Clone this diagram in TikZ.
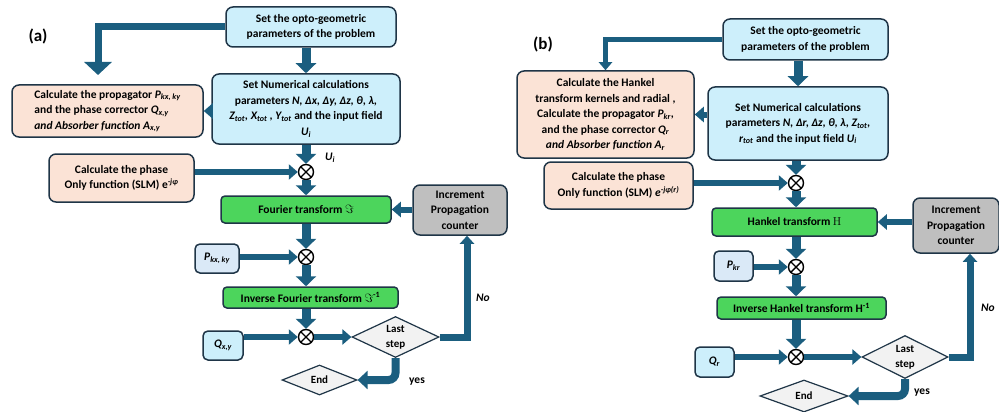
\documentclass[tikz,border=0pt]{standalone}
\usepackage{fontspec}
\setmainfont{Carlito}
\newfontfamily\lmrfont{Latin Modern Roman}
\usetikzlibrary{arrows.meta,positioning,shapes.geometric}
\definecolor{arrc}{HTML}{1B5E7F}
\definecolor{edgec}{HTML}{1F3547}
\definecolor{skyc}{HTML}{CDEFFB}
\definecolor{palec}{HTML}{DAE9F7}
\definecolor{peachc}{HTML}{FBE3D6}
\definecolor{greenc}{HTML}{4CD55C}
\definecolor{grayc}{HTML}{BFBFBF}
\definecolor{diac}{HTML}{F2F2F2}

\begin{document}
\begin{tikzpicture}[x=1pt, y=-1pt,
	font=\bfseries\fontsize{11.5}{15.5}\selectfont,
	comp/.style={rectangle, rounded corners=7pt, draw=edgec, line width=1.5pt, align=center, inner sep=2pt},
	skybox/.style={comp, fill=skyc},
	palebox/.style={comp, fill=palec, rounded corners=5pt},
	peachbox/.style={comp, fill=peachc},
	ftbox/.style={comp, fill=greenc, rounded corners=4pt},
	incbox/.style={comp, fill=grayc},
	dia/.style={diamond, aspect=2, draw=edgec, line width=1.2pt, fill=diac, inner sep=0pt, align=center, font=\bfseries\fontsize{11}{15}\selectfont},
	mult/.style={circle, draw=black, line width=1.4pt, fill=white, minimum size=15pt, inner sep=0pt,
		path picture={\draw[line width=1.4pt] (path picture bounding box.north west) -- (path picture bounding box.south east) (path picture bounding box.north east) -- (path picture bounding box.south west);}},
	arr/.style={draw=arrc, line width=9pt, -{Triangle[width=20pt,length=10pt]}},
	sarr/.style={draw=arrc, line width=6pt, -{Triangle[width=15pt,length=9pt]}},
	barr/.style={draw=arrc, line width=7pt, -{Triangle[width=27pt,length=13pt]}},
	tarr/.style={draw=arrc, line width=5pt, -{Triangle[width=13pt,length=8pt]}},
	narr/.style={draw=arrc, line width=7pt, -{Triangle[width=14pt,length=8pt]}},
	yarr/.style={draw=arrc, line width=8pt, rounded corners=7pt, -{Triangle[width=18pt,length=10pt]}}]
	\useasboundingbox (0,0) rectangle (999,412);
	\clip (0,0) rectangle (999,412);

	\node[font=\bfseries\fontsize{17}{20}\selectfont] (la) at (38,36) {(a)};
	\node[skybox, minimum width=170pt, minimum height=40pt] (n1) at (311,27) {Set the opto-geometric\\parameters of the problem};
	\node[skybox, minimum width=188pt, minimum height=70pt] (n2) at (306,109) {Set Numerical calculations\\parameters \textit{N, Δx, Δy, Δz, θ, λ,}\\\textit{Z\textsubscript{tot}, X\textsubscript{tot} , Y\textsubscript{tot}} and the input field\\\textit{U\textsubscript{i}}};
	\node[peachbox, align=left, minimum width=191pt, minimum height=52pt] (n3) at (107.5,111) {Calculate the propagator \textit{P\textsubscript{kx, ky}}\\and the phase corrector \textit{Q\textsubscript{x,y}}\\\textit{and Absorber function A\textsubscript{x,y}}};
	\node[peachbox, minimum width=145pt, minimum height=48pt] (n4) at (121.5,178) {Calculate the phase\\Only function (SLM) e\textsuperscript{\textit{-jφ}}};
	\node[mult] (n5) at (306,172) {};
	\node[ftbox, minimum width=170pt, minimum height=27pt] (n6) at (306,209.5) {Fourier transform $\Im$};
	\node[incbox, minimum width=94pt, minimum height=50pt] (n7) at (460,210) {Increment\\Propagation\\counter};
	\node[palebox, minimum width=44pt, minimum height=29pt] (n8) at (217,258.5) {\textit{P\textsubscript{kx, ky}}};
	\node[mult] (n9) at (306,257) {};
	\node[ftbox, minimum width=175pt, minimum height=21pt] (n10) at (310.5,297.5) {Inverse Fourier transform $\Im$\textsuperscript{-1}};
	\node[mult] (n11) at (306,337) {};
	\node[skybox, rounded corners=5pt, minimum width=40pt, minimum height=29pt] (n12) at (223,345.5) {\textit{Q\textsubscript{x,y}}};
	\node[dia, minimum width=87pt, minimum height=41pt] (n13) at (395.5,337) {Last\\step};
	\node[dia, minimum width=75pt, minimum height=30pt] (n14) at (319.5,380) {End};
	\node (n15) at (483,298) {\textit{No}};
	\node (n16) at (417,382) {yes};
	\node (n17) at (330,158) {\textit{U\textsubscript{i}}};
	\coordinate (c1) at (98,75);

	\draw[arr] (n1.south -| n2) -- (n2.north);
	\draw[barr] (n1.west) -| (c1);
	\draw[sarr] (n2.west |- n3.east) -- (n3.east);
	\draw[arr] (n2.south -| n5) -- (n5.north);
	\draw[sarr] (n4.east |- n5) -- (n5.west);
	\draw[arr] (n5.south) -- (n6.north);
	\draw[sarr] (n7.west |- n6) -- (n6.east);
	\draw[arr] (n6.south) -- (n9.north);
	\draw[sarr] (n8.east |- n9) -- (n9.west);
	\draw[arr] (n9.south) -- (n10.north -| n9);
	\draw[arr] (n10.south -| n11) -- (n11.north);
	\draw[sarr] (n12.east |- n11) -- (n11.west);
	\draw[sarr] (n11.east) -- (n13.west);
	\draw[narr] (n13.east) -| ([xshift=7pt]n7.south);
	\draw[yarr] (n13.south) |- (n14.east);

	\node[font=\bfseries\fontsize{17}{20}\selectfont] (lb) at (543,44) {(b)};
	\node[skybox, minimum width=165pt, minimum height=41pt] (m1) at (805.5,39.5) {Set the opto-geometric\\parameters of the problem};
	\node[skybox, minimum width=180pt, minimum height=73pt] (m2) at (798,123.5) {Set Numerical calculations\\parameters \textit{N, Δr, Δz, θ, λ, Z\textsubscript{tot},}\\\textit{r\textsubscript{tot}} and the input field \textit{U\textsubscript{i}}};
	\node[peachbox, minimum width=177pt, minimum height=87pt] (m3) at (605.5,114.5) {Calculate the Hankel\\transform kernels and radial ,\\Calculate the propagator \textit{P\textsubscript{kr}},\\and the phase corrector \textit{Q\textsubscript{r}}\\\textit{and Absorber function A\textsubscript{r}}};
	\node[peachbox, minimum width=149pt, minimum height=47pt] (m4) at (618.5,185.5) {Calculate the phase\\Only function (SLM) \textit{e\textsuperscript{-jφ(r)}}};
	\node[mult] (m5) at (796,183) {};
	\node[ftbox, minimum width=165pt, minimum height=28pt] (m6) at (794.5,222) {Hankel transform {\lmrfont\mdseries H}};
	\node[incbox, minimum width=86pt, minimum height=55pt] (m7) at (956,225.5) {Increment\\Propagation\\counter};
	\node[palebox, minimum width=39pt, minimum height=30pt] (m8) at (733.5,266) {\textit{P\textsubscript{kr}}};
	\node[mult] (m9) at (796,267) {};
	\node[ftbox, minimum width=169pt, minimum height=22pt] (m10) at (801.5,308) {Inverse Hankel transform H\textsuperscript{-1}};
	\node[mult] (m11) at (796,357) {};
	\node[skybox, rounded corners=5pt, minimum width=39pt, minimum height=30pt] (m12) at (714.5,362) {\textit{Q\textsubscript{r}}};
	\node[dia, minimum width=86pt, minimum height=43pt] (m13) at (905,357) {Last\\step};
	\node[dia, minimum width=88pt, minimum height=32pt] (m14) at (804,396) {End};
	\node (m15) at (988,308) {\textit{No}};
	\node (m16) at (922,393) {yes};

	\draw[arr] (m1.south -| m2) -- (m2.north);
	\draw[tarr] (m1.west) -| (m3.north);
	\draw[sarr] (m2.west |- m3.east) -- (m3.east);
	\draw[arr] (m2.south -| m5) -- (m5.north);
	\draw[sarr] (m4.east |- m5) -- (m5.west);
	\draw[arr] (m5.south) -- (m6.north -| m5);
	\draw[sarr] (m7.west |- m6) -- (m6.east);
	\draw[arr] (m6.south -| m9) -- (m9.north);
	\draw[sarr] (m8.east |- m9) -- (m9.west);
	\draw[arr] (m9.south) -- (m10.north -| m9);
	\draw[arr] (m10.south -| m11) -- (m11.north);
	\draw[sarr] (m12.east |- m11) -- (m11.west);
	\draw[sarr] (m11.east) -- (m13.west);
	\draw[narr] (m13.east) -| ([xshift=14pt]m7.south);
	\draw[yarr] (m13.south) |- (m14.east);
\end{tikzpicture}
\end{document}
